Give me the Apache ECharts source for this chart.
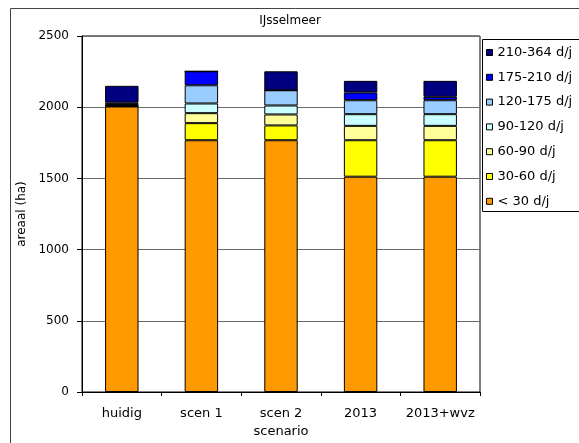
<!DOCTYPE html>
<html>
<head>
<meta charset="utf-8">
<script src="https://cdn.jsdelivr.net/npm/echarts@6/dist/echarts.min.js"></script>
<style>
  html, body { margin: 0; padding: 0; background: #fff; }
  #chart { width: 579px; height: 443px; }
</style>
</head>
<body>
<div id="chart"></div>
<script>
// Areaal (ha) per aantal dagen per jaar, per scenario
const categories = ['huidig', 'scen 1', 'scen 2', '2013', '2013+wvz'];
const classNames = ['< 30 d/j', '30-60 d/j', '60-90 d/j', '90-120 d/j', '120-175 d/j', '175-210 d/j', '210-364 d/j'];

const lt30     = [2005, 1768, 1768, 1512, 1512];
const d30_60   = [3, 120, 104, 256, 256];
const d60_90   = [3, 70, 77, 101, 101];
const d90_120  = [4, 68, 63, 82, 82];
const d120_175 = [5, 128, 107, 98, 98];
const d175_210 = [12, 98, 0, 54, 24];
const d210_364 = [118, 0, 133, 82, 112];

const yTicks = [0, 500, 1000, 1500, 2000, 2500];

const classValues = [lt30, d30_60, d60_90, d90_120, d120_175, d175_210, d210_364];
const classColors = ['#FF9900', '#FFFF00', '#FFFF99', '#CCFFFF', '#99CCFF', '#0000FF', '#000080'];

const font = 'DejaVu Sans, Verdana, sans-serif';
const chart = echarts.init(document.getElementById('chart'));

const series = classNames.map((name, i) => ({
  name: name,
  type: 'bar',
  stack: 'areaal',
  barWidth: '42%',
  data: classValues[i],
  itemStyle: { color: classColors[i], borderColor: '#000', borderWidth: 1 },
  emphasis: { disabled: true }
}));

chart.setOption({
  animation: false,
  backgroundColor: '#fff',
  title: {
    text: 'IJsselmeer',
    left: 285, top: 10, textAlign: 'center',
    textStyle: { fontFamily: font, fontSize: 12, fontWeight: 'normal', color: '#000' }
  },
  graphic: [
    {
      // outer chart frame
      type: 'rect',
      shape: { x: 10.5, y: 8.5, width: 600, height: 500 },
      style: { fill: 'none', stroke: '#444', lineWidth: 1 },
      silent: true, z: -1
    },
    {
      // legend box
      type: 'rect',
      shape: { x: 482.5, y: 39.5, width: 120, height: 172 },
      style: { fill: '#fff', stroke: '#000', lineWidth: 1 },
      silent: true, z: 0
    }
  ],
  legend: {
    orient: 'vertical',
    left: 486, top: 46,
    data: classNames.slice().reverse(),
    itemWidth: 6, itemHeight: 6,
    itemGap: 11.8,
    icon: 'rect',
    padding: 0,
    selectedMode: false,
    z: 5,
    itemStyle: { borderColor: '#000', borderWidth: 1 },
    textStyle: { fontFamily: font, fontSize: 13, color: '#000', padding: [0, 0, 0, 0] }
  },
  grid: {
    left: 82, right: 99, top: 36, bottom: 51,
    show: true, borderColor: '#000', borderWidth: 1, backgroundColor: '#fff'
  },
  xAxis: {
    type: 'category',
    data: categories,
    name: 'scenario',
    nameLocation: 'middle',
    nameGap: 33,
    nameTextStyle: { fontFamily: font, fontSize: 13, color: '#000' },
    axisLine: { lineStyle: { color: '#000' } },
    axisTick: { show: true, length: 4, lineStyle: { color: '#000' } },
    axisLabel: { fontFamily: font, fontSize: 13, color: '#000', margin: 15, interval: 0 }
  },
  yAxis: {
    type: 'value',
    min: yTicks[0], max: yTicks[yTicks.length - 1], interval: 500,
    name: 'areaal (ha)',
    nameLocation: 'middle',
    nameGap: 48,
    nameTextStyle: { fontFamily: font, fontSize: 12, color: '#000' },
    axisLine: { show: true, lineStyle: { color: '#000' } },
    axisTick: { show: true, length: 5, lineStyle: { color: '#000' } },
    axisLabel: { fontFamily: font, fontSize: 12, color: '#000', margin: 13, formatter: v => String(v) },
    splitLine: { show: true, lineStyle: { color: '#6a6a6a', width: 1 } }
  },
  series: series
});
</script>
</body>
</html>
